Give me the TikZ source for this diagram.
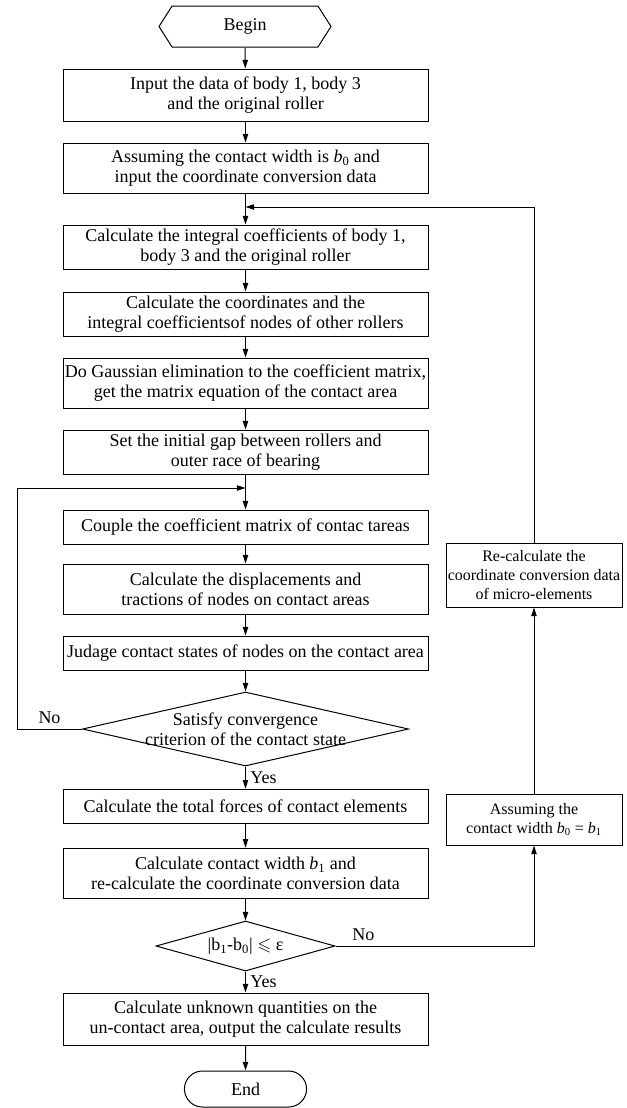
\documentclass[tikz,border=0pt]{standalone}
\usepackage{amssymb}
\usepackage{fontspec}
\setmainfont{Liberation Serif}
\usetikzlibrary{shapes.geometric,shapes.misc,shapes.symbols,arrows.meta}

\tikzset{every picture/.style={line width=0.75pt}}
\tikzset{
	txt/.style={font=\fontsize{13.5}{15}\selectfont},
	procbox/.style={draw, align=center, inner sep=1pt, minimum width=273.75pt, txt},
	sidebox/.style={draw, align=center, inner sep=1pt, minimum width=132pt, font=\fontsize{12}{14}\selectfont},
	decide/.style={draw, diamond, inner sep=0pt},
	flowarr/.style={-{Triangle[length=6.5pt,width=4pt]}}
}

\begin{document}
\begin{tikzpicture}[x=0.75pt,y=0.75pt,yscale=-1,xscale=1]
	\useasboundingbox (0,0) rectangle (626,1108);

	%Shape: Hexagon [begin]
	\node[draw, signal, signal to=west and east, signal pointer angle=115, minimum width=129pt, minimum height=30.75pt, inner sep=0pt, txt] (begin) at (245,26.5) {Begin};
	%Shape: Rectangles [main column]
	\node[procbox, minimum height=39pt] (input) at (245.5,95) {Input the data of body 1, body 3\\and the original roller};
	\node[procbox, minimum height=37.5pt] (assume) at (245.5,168) {Assuming the contact width is \textit{b}\textsubscript{0} and\\input the coordinate conversion data};
	\coordinate (back) at (245.5,207);
	\node[procbox, minimum height=33pt] (coefone) at (245.5,247) {Calculate the integral coefficients of body 1,\\body 3 and the original roller};
	\node[procbox, minimum height=33pt] (coefother) at (245.5,314) {Calculate the coordinates and the\\integral coefficientsof nodes of other rollers};
	\node[procbox, minimum height=37.5pt] (gauss) at (245.5,383) {Do Gaussian elimination to the coefficient matrix,\\get the matrix equation of the contact area};
	\node[procbox, minimum height=33pt] (gap) at (245.5,452) {Set the initial gap between rollers and\\outer race of bearing};
	\coordinate (again) at (245.5,488);
	\node[procbox, minimum height=25.5pt] (couple) at (245.5,527) {Couple the coefficient matrix of contac tareas};
	\node[procbox, minimum height=37.5pt] (displ) at (245.5,589) {Calculate the displacements and\\tractions of nodes on contact areas};
	\node[procbox, minimum height=25.5pt] (judge) at (245.5,653) {Judage contact states of nodes on the contact area};
	%Shape: Diamond [conv]
	\node[decide, minimum width=244.5pt, minimum height=55.5pt, label={[txt, align=center]center:Satisfy convergence\\criterion of the contact state}] (conv) at (245.5,729) {};
	\node[procbox, minimum height=26pt] (forces) at (245.5,806.5) {Calculate the total forces of contact elements};
	\node[procbox, minimum height=38pt] (cwidth) at (245.5,873.5) {Calculate contact width \textit{b}\textsubscript{1} and\\re-calculate the coordinate conversion data};
	%Shape: Diamond [eps]
	\node[decide, minimum width=134.25pt, minimum height=37.5pt, label={[txt]center:{|b\textsubscript{1}-b\textsubscript{0}| $\leqslant$ ε}}] (eps) at (245.5,946) {};
	\node[procbox, minimum height=39pt] (result) at (245.5,1019) {Calculate unknown quantities on the\\un-contact area, output the calculate results};
	%Shape: Rounded [end]
	\node[draw, rounded rectangle, minimum width=98.25pt, minimum height=27pt, txt] (end) at (245.5,1089) {End};

	%Shape: Rectangles [side column]
	\node[sidebox, minimum height=48pt] (recalc) at (534,575) {Re-calculate the\\coordinate conversion data\\of micro-elements};
	\node[sidebox, minimum height=38.25pt] (newwidth) at (534,819.5) {Assuming the\\contact width \textit{b}\textsubscript{0} = \textit{b}\textsubscript{1}};

	%Straight Lines
	\draw[flowarr] (begin) -- (input);
	\draw[flowarr] (input) -- (assume);
	\draw[flowarr] (assume) -- (coefone);
	\draw[flowarr] (coefone) -- (coefother);
	\draw[flowarr] (coefother) -- (gauss);
	\draw[flowarr] (gauss) -- (gap);
	\draw[flowarr] (gap) -- (couple);
	\draw[flowarr] (couple) -- (displ);
	\draw[flowarr] (displ) -- (judge);
	\draw[flowarr] (judge) -- (conv);
	\draw[flowarr] (conv) -- node[right, txt] {Yes} (forces);
	\draw[flowarr] (forces) -- (cwidth);
	\draw[flowarr] (cwidth) -- (eps);
	\draw[flowarr] (eps) -- node[right, txt] {Yes} (result);
	\draw[flowarr] (result) -- (end);

	%Loop Lines
	\coordinate (loopleft) at (17,729);
	\draw[flowarr] (conv.west) -- node[above, txt] {No} (loopleft) |- (again);
	\draw[flowarr] (eps.east) -| node[pos=0.07, above, txt] {No} (newwidth);
	\draw[flowarr] (newwidth) -- (recalc);
	\draw[flowarr] (recalc) |- (back);

\end{tikzpicture}
\end{document}
